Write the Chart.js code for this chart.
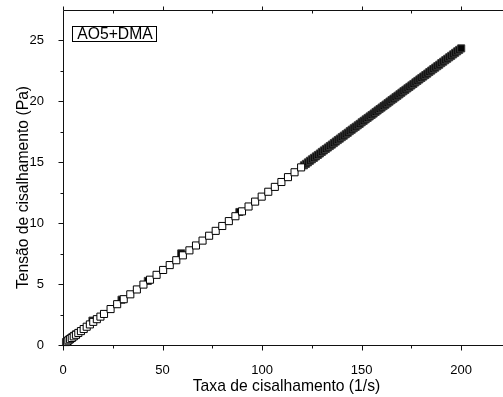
<!DOCTYPE html>
<html>
<head>
<meta charset="utf-8">
<script src="https://cdn.jsdelivr.net/npm/chart.js@4"></script>
<style>
  html, body { margin: 0; padding: 0; background: #fff; }
  #wrap { width: 503px; height: 397px; overflow: hidden; }
</style>
</head>
<body>
<div id="wrap"><canvas id="c" width="503" height="397"></canvas></div>
<script>
// Sweep with open markers (shear rate in 1/s, stress in Pa)
const shearRate = [2.0, 2.7, 3.5, 4.4, 5.4, 6.5, 7.7, 9.0, 10.4, 11.9, 13.5, 15.2, 17.0, 18.8, 20.6,
  23.9, 27.2, 30.5, 33.8, 37.1, 40.4, 43.7, 47.0, 50.3, 53.6, 56.9, 60.2, 63.5, 66.8, 70.1,
  73.4, 76.7, 80.0, 83.3, 86.6, 89.9, 93.2, 96.5, 99.8, 103.1, 106.4, 109.7, 113.0, 116.3, 119.6];
const stress = [0.29, 0.38, 0.48, 0.58, 0.71, 0.84, 0.99, 1.14, 1.31, 1.50, 1.69, 1.90, 2.12, 2.33, 2.55,
  2.95, 3.35, 3.76, 4.16, 4.56, 4.96, 5.36, 5.76, 6.16, 6.56, 6.96, 7.36, 7.77, 8.17, 8.57,
  8.97, 9.37, 9.77, 10.17, 10.57, 10.97, 11.37, 11.77, 12.18, 12.58, 12.98, 13.38, 13.78, 14.18, 14.58];

// Second sweep with filled markers
const shearRate2 = [1.5, 2.3, 3.1, 3.9, 4.7, 5.6, 6.6, 14.8, 29.4, 42.6, 59.4, 88.6,
  121, 122, 123, 124, 125, 126, 127, 128, 129, 130, 131, 132, 133, 134, 135, 136, 137, 138, 139, 140,
  141, 142, 143, 144, 145, 146, 147, 148, 149, 150, 151, 152, 153, 154, 155, 156, 157, 158, 159, 160,
  161, 162, 163, 164, 165, 166, 167, 168, 169, 170, 171, 172, 173, 174, 175, 176, 177, 178, 179, 180,
  181, 182, 183, 184, 185, 186, 187, 188, 189, 190, 191, 192, 193, 194, 195, 196, 197, 198, 199, 200];
const stress2 = [0.24, 0.34, 0.45, 0.54, 0.64, 0.75, 0.87, 2.00, 3.72, 5.26, 7.52, 10.92,
  14.75, 14.87, 14.99, 15.12, 15.24, 15.36, 15.48, 15.60, 15.72, 15.85, 15.97, 16.09, 16.21, 16.33, 16.45, 16.57, 16.70, 16.82, 16.94, 17.06,
  17.18, 17.30, 17.42, 17.55, 17.67, 17.79, 17.91, 18.03, 18.15, 18.28, 18.40, 18.52, 18.64, 18.76, 18.88, 19.00, 19.13, 19.25, 19.37, 19.49,
  19.61, 19.73, 19.85, 19.98, 20.10, 20.22, 20.34, 20.46, 20.58, 20.71, 20.83, 20.95, 21.07, 21.19, 21.31, 21.43, 21.56, 21.68, 21.80, 21.92,
  22.04, 22.16, 22.28, 22.41, 22.53, 22.65, 22.77, 22.89, 23.01, 23.14, 23.26, 23.38, 23.50, 23.62, 23.74, 23.86, 23.99, 24.11, 24.23, 24.35];

const xMajorTicks = [0, 50, 100, 150, 200];
const xMinorTicks = [25, 75, 125, 175];
const yMajorTicks = [0, 5, 10, 15, 20, 25];
const yMinorTicks = [2.5, 7.5, 12.5, 17.5, 22.5];

const xTitle = 'Taxa de cisalhamento (1/s)';
const yTitle = 'Tensão de cisalhamento (Pa)';
const sampleLabel = 'AO5+DMA';

const FONT = "'Liberation Sans', Arial, sans-serif";

// plot box in canvas pixels
const AREA = { left: 63, top: 10, right: 503, bottom: 345 };

function toPoints(xs, ys) {
  return xs.map((x, i) => ({ x: x, y: ys[i] }));
}

// Pin the plot box to fixed pixel edges
const areaPlugin = {
  id: 'fixedArea',
  afterLayout(chart) {
    const xs = chart.scales.x, ys = chart.scales.y;
    xs.left = AREA.left; xs.right = AREA.right; xs.width = AREA.right - AREA.left;
    xs.top = AREA.bottom; xs.bottom = chart.height; xs.height = chart.height - AREA.bottom;
    ys.left = 0; ys.right = AREA.left; ys.width = AREA.left;
    ys.top = AREA.top; ys.bottom = AREA.bottom; ys.height = AREA.bottom - AREA.top;
    xs.configure(); ys.configure();
    const ca = chart.chartArea;
    ca.left = AREA.left; ca.right = AREA.right; ca.top = AREA.top; ca.bottom = AREA.bottom;
    ca.width = AREA.right - AREA.left; ca.height = AREA.bottom - AREA.top;
  }
};

// Frame, tick marks, axis titles and the sample label box
const framePlugin = {
  id: 'frame',
  afterDraw(chart) {
    const ctx = chart.ctx;
    const xs = chart.scales.x, ys = chart.scales.y;
    const a = chart.chartArea;
    const L = Math.round(a.left) + 0.5, B = Math.round(a.bottom) + 0.5, T = Math.round(a.top) + 0.5;
    ctx.save();
    ctx.strokeStyle = '#111';
    ctx.lineWidth = 1;
    ctx.beginPath();
    ctx.moveTo(L, T); ctx.lineTo(L, B); ctx.lineTo(a.right + 2, B);
    ctx.moveTo(L, T); ctx.lineTo(a.right + 2, T);
    // bottom axis ticks (outward), top axis ticks
    xMajorTicks.forEach(v => {
      const p = Math.round(xs.getPixelForValue(v)) + 0.5;
      ctx.moveTo(p, B); ctx.lineTo(p, B + 5);
      ctx.moveTo(p, T); ctx.lineTo(p, T - 4);
    });
    xMinorTicks.forEach(v => {
      const p = Math.round(xs.getPixelForValue(v)) + 0.5;
      ctx.moveTo(p, B); ctx.lineTo(p, B + 3);
      ctx.moveTo(p, T); ctx.lineTo(p, T + 3);
    });
    // left axis ticks (outward)
    yMajorTicks.forEach(v => {
      const p = Math.round(ys.getPixelForValue(v)) + 0.5;
      ctx.moveTo(L, p); ctx.lineTo(L - 5, p);
    });
    yMinorTicks.forEach(v => {
      const p = Math.round(ys.getPixelForValue(v)) + 0.5;
      ctx.moveTo(L, p); ctx.lineTo(L - 3, p);
    });
    ctx.stroke();

    ctx.fillStyle = '#000';
    ctx.font = '15.7px ' + FONT;
    ctx.textAlign = 'center';
    ctx.textBaseline = 'alphabetic';
    ctx.fillText(xTitle, 286.5, 390.5);
    ctx.save();
    ctx.translate(28, 187.5);
    ctx.rotate(-Math.PI / 2);
    ctx.fillText(yTitle, 0, 0);
    ctx.restore();

    // sample label box
    ctx.strokeStyle = '#000';
    ctx.strokeRect(72.5, 26.5, 84, 15);
    ctx.textAlign = 'left';
    ctx.fillText(sampleLabel, 77.3, 39);
    ctx.restore();
  }
};

new Chart(document.getElementById('c'), {
  type: 'scatter',
  data: {
    datasets: [
      {
        label: sampleLabel,
        data: toPoints(shearRate, stress),
        pointStyle: 'rect',
        pointRadius: 5,
        borderWidth: 1,
        borderColor: '#000',
        backgroundColor: '#fff'
      },
      {
        label: sampleLabel + ' (2)',
        data: toPoints(shearRate2, stress2),
        pointStyle: 'rect',
        pointRadius: 5,
        borderWidth: 1,
        borderColor: '#3a3a3a',
        backgroundColor: '#050505'
      }
    ]
  },
  options: {
    responsive: false,
    animation: false,
    devicePixelRatio: 1,
    clip: false,
    layout: { padding: 0 },
    plugins: { legend: { display: false }, tooltip: { enabled: false }, title: { display: false } },
    scales: {
      x: {
        type: 'linear',
        min: 0,
        max: 221,
        afterBuildTicks: s => { s.ticks = xMajorTicks.map(v => ({ value: v })); },
        grid: { display: false },
        border: { display: false },
        ticks: { color: '#000', font: { family: FONT, size: 13 }, padding: 10, maxRotation: 0 }
      },
      y: {
        type: 'linear',
        min: 0,
        max: 27.5,
        afterBuildTicks: s => { s.ticks = yMajorTicks.map(v => ({ value: v })); },
        grid: { display: false },
        border: { display: false },
        ticks: { color: '#000', font: { family: FONT, size: 13 }, padding: 11 }
      }
    }
  },
  plugins: [areaPlugin, framePlugin]
});
</script>
</body>
</html>
